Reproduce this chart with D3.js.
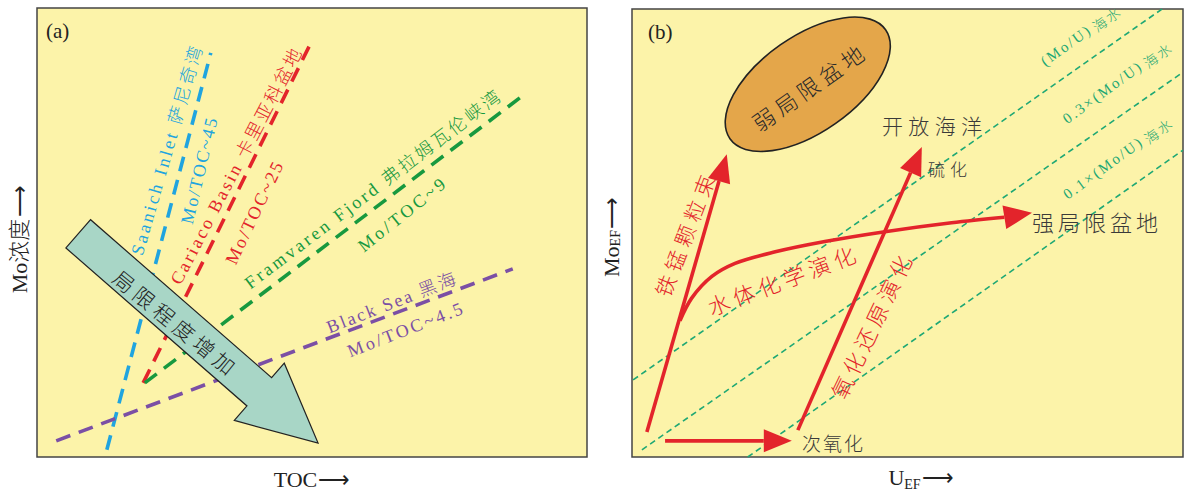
<!DOCTYPE html>
<html>
<head>
<meta charset="utf-8">
<script src="https://cdn.jsdelivr.net/npm/d3@7"></script>
<style>
  body { margin: 0; background: #fff; }
  text { font-family: "Liberation Serif", "Noto Sans CJK SC", serif; }
  .cjk { font-weight: 300; }
  .arr { font-family: "DejaVu Sans", sans-serif; font-weight: 300; }
</style>
</head>
<body>
<svg id="chart" width="1186" height="495"></svg>
<script>
// ---- panel (a): Mo vs TOC in modern anoxic basins (schematic 0-100 units)
const basinNames = ['Saanich Inlet 萨尼奇湾', 'Cariaco Basin 卡里亚科盆地', 'Framvaren Fjord 弗拉姆瓦伦峡湾', 'Black Sea 黑海'];
const basinRatios = ['Mo/TOC~45', 'Mo/TOC~25', 'Mo/TOC~9', 'Mo/TOC~4.5'];
const basinStart = [[12.7, 1.6], [19.3, 16.5], [19.6, 16.5], [3.5, 3.6]];
const basinEnd = [[31.6, 90.0], [49.5, 91.5], [87.8, 80.0], [86.5, 41.9]];
const restrictionArrow = [[7.5, 49.7], [51.1, 3.1]];
const restrictionText = '局限程度增加';

// ---- panel (b): Mo_EF vs U_EF
const seawaterNames = ['(Mo/U)', '0.3×(Mo/U)', '0.1×(Mo/U)'];
const seawaterStart = [[0.2, 17.2], [1.8, 1.6], [21.0, 0]];
const seawaterEnd = [[96.2, 100], [100, 85.9], [100, 68.5]];
const feMnShuttle = [[2.7, 5.6], [17.2, 67.6]];
const redoxPath = [[30.1, 6.0], [52.6, 69.2]];
const suboxicPath = [[6.0, 3.6], [29.0, 3.6]];
const waterChemCurve = [[8.7, 30.4], [10.8, 35.4], [14.5, 40.3], [18.7, 43.2], [26.0, 45.8],
  [35.0, 48.1], [45.9, 50.3], [58.0, 52.3], [68.0, 53.6], [72.6, 54.5]];
const weakBasin = [31.9, 83.2];

// ---- layout (label anchors in the same units; angles in degrees)
const basinNameLayout = [[23.6, 68.2, -73.9, 216], [36.2, 64.7, -62.4, 263], [61.0, 59.5, -37.1, 315], [64.4, 34.3, -21.3, 137]];
const basinRatioLayout = [[29.5, 63.7, -76.6, 108], [39.5, 54.3, -64.4, 111], [66.3, 53.9, -38.5, 106], [66.9, 28.3, -21.2, 122]];
const seawaterLayout = [[75.0, 87.1], [79.0, 74.3], [79.1, 57.4]];

const colors = ['#20a4df', '#e3242b', '#17993f', '#7b4fa5'];
const red = '#e3242b', swGreen = '#1fa874', ink = '#3a3a3a';

const svg = d3.select('#chart');

const panelA = { left: 37, top: 8, width: 550, height: 449 };
const panelB = { left: 632, top: 9, width: 551, height: 448 };

function makePanel(p) {
  const g = svg.append('g').attr('transform', `translate(${p.left},${p.top})`);
  g.append('rect').attr('width', p.width).attr('height', p.height)
    .attr('fill', '#fcf3a9').attr('stroke', '#444').attr('stroke-width', 1.5);
  const x = d3.scaleLinear().domain([0, 100]).range([0, p.width]);
  const y = d3.scaleLinear().domain([0, 100]).range([p.height, 0]);
  return { g, x, y };
}

function label(g, x, y, angle, txt, o) {
  const t = g.append('text')
    .attr('class', 'cjk')
    .attr('transform', `translate(${x},${y}) rotate(${angle})`)
    .attr('text-anchor', o.anchor || 'middle')
    .attr('dominant-baseline', o.baseline || 'central')
    .attr('font-size', o.size)
    .attr('fill', o.color)
    .text(txt);
  if (o.len) t.attr('textLength', o.len).attr('lengthAdjust', 'spacing');
  return t;
}

function arrowHead(g, p0, p1, len, half, color) {
  const dx = p1[0] - p0[0], dy = p1[1] - p0[1], L = Math.hypot(dx, dy);
  const ux = dx / L, uy = dy / L;
  const bx = p1[0] - ux * len, by = p1[1] - uy * len;
  g.append('path')
    .attr('d', `M${p1[0]},${p1[1]}L${bx - uy * half},${by + ux * half}L${bx + uy * half},${by - ux * half}Z`)
    .attr('fill', color);
  return [bx, by];
}

// ================= panel (a)
const A = makePanel(panelA);
const lineA = d3.line().x(d => A.x(d[0])).y(d => A.y(d[1]));

basinNames.forEach((name, i) => {
  A.g.append('path')
    .attr('d', lineA([basinStart[i], basinEnd[i]]))
    .attr('stroke', colors[i]).attr('stroke-width', 3.6)
    .attr('stroke-dasharray', '15,9').attr('fill', 'none');
});

// big "increasing restriction" arrow
{
  const s = [A.x(restrictionArrow[0][0]), A.y(restrictionArrow[0][1])];
  const t = [A.x(restrictionArrow[1][0]), A.y(restrictionArrow[1][1])];
  const dx = t[0] - s[0], dy = t[1] - s[1], L = Math.hypot(dx, dy);
  const ux = dx / L, uy = dy / L, nx = -uy, ny = ux;
  const w = 18.75, h = 38, hl = 78;
  const b = [t[0] - ux * hl, t[1] - uy * hl];
  const pts = [
    [s[0] + nx * w, s[1] + ny * w], [b[0] + nx * w, b[1] + ny * w], [b[0] + nx * h, b[1] + ny * h], t,
    [b[0] - nx * h, b[1] - ny * h], [b[0] - nx * w, b[1] - ny * w], [s[0] - nx * w, s[1] - ny * w]
  ];
  A.g.append('path').attr('d', 'M' + pts.join('L') + 'Z')
    .attr('fill', '#a8d6c6').attr('stroke', '#222').attr('stroke-width', 1.2);
  label(A.g, A.x(24.8), A.y(29.8), 39.1, restrictionText, { size: 21, color: '#222', len: 150 });
}

basinNames.forEach((name, i) => {
  const n = basinNameLayout[i], r = basinRatioLayout[i];
  label(A.g, A.x(n[0]), A.y(n[1]), n[2], name, { size: 18, color: colors[i], len: n[3] });
  label(A.g, A.x(r[0]), A.y(r[1]), r[2], basinRatios[i], { size: 18, color: colors[i], len: r[3] });
});

A.g.append('text').attr('x', 9).attr('y', 30).attr('font-size', 21).attr('fill', '#222').text('(a)');

// axis titles (a)
{
  const t = svg.append('text').attr('x', 312).attr('y', 487).attr('text-anchor', 'middle')
    .attr('font-size', 22).attr('fill', '#222');
  t.append('tspan').text('TOC');
  t.append('tspan').attr('class', 'arr').attr('dx', 1).text('⟶');
  const y = svg.append('text').attr('class', 'cjk').attr('transform', 'translate(19,239) rotate(-90)')
    .attr('text-anchor', 'middle').attr('dominant-baseline', 'central')
    .attr('font-size', 22).attr('fill', '#222');
  y.append('tspan').text('Mo浓度');
  y.append('tspan').attr('class', 'arr').attr('dx', 2).text('⟶');
}

// ================= panel (b)
const B = makePanel(panelB);
const lineB = d3.line().x(d => B.x(d[0])).y(d => B.y(d[1]));

seawaterNames.forEach((name, i) => {
  B.g.append('path')
    .attr('d', lineB([seawaterStart[i], seawaterEnd[i]]))
    .attr('stroke', swGreen).attr('stroke-width', 1.6)
    .attr('stroke-dasharray', '6,4').attr('fill', 'none');
  const l = seawaterLayout[i];
  const t = B.g.append('text').attr('class', 'cjk')
    .attr('transform', `translate(${B.x(l[0])},${B.y(l[1])}) rotate(-36)`)
    .attr('font-size', 15).attr('fill', swGreen).attr('letter-spacing', 2.2);
  t.append('tspan').text(name);
  t.append('tspan').attr('dx', 3).attr('dy', 3).attr('font-size', 14).text('海水');
});

// weakly restricted basin ellipse
B.g.append('ellipse')
  .attr('transform', `translate(${B.x(weakBasin[0])},${B.y(weakBasin[1])}) rotate(-35)`)
  .attr('rx', 95).attr('ry', 48)
  .attr('fill', '#e4a64a').attr('stroke', '#222').attr('stroke-width', 1.6);
label(B.g, B.x(weakBasin[0]) + 1, B.y(weakBasin[1]) + 5, -35, '弱局限盆地', { size: 22, color: '#2a2a2a', len: 130 });

// red straight arrows
[feMnShuttle, redoxPath, suboxicPath].forEach(p => {
  const p0 = [B.x(p[0][0]), B.y(p[0][1])], p1 = [B.x(p[1][0]), B.y(p[1][1])];
  const base = arrowHead(B.g, p0, p1, 28, 11.5, red);
  B.g.append('path').attr('d', `M${p0[0]},${p0[1]}L${base[0]},${base[1]}`)
    .attr('stroke', red).attr('stroke-width', 3.6).attr('fill', 'none');
});

// water chemistry curve
{
  const px = waterChemCurve.map(d => [B.x(d[0]), B.y(d[1])]);
  const tip = px[px.length - 1];
  const base = arrowHead(B.g, px[px.length - 2], tip, 28, 12, red);
  const body = px.slice(0, -1).concat([base]);
  body.splice(body.length - 2, 1);
  B.g.append('path').attr('d', d3.line().curve(d3.curveCatmullRom)(body))
    .attr('stroke', red).attr('stroke-width', 3.6).attr('fill', 'none');
}

// red labels
label(B.g, B.x(9.8), B.y(49.3), -69, '铁锰颗粒束', { size: 21, color: red, len: 128 });
label(B.g, B.x(27.2), B.y(39.1), -20.5, '水体化学演化', { size: 22, color: red, len: 156 });
label(B.g, B.x(43.6), B.y(28.9), -64.4, '氧化还原演化', { size: 22, color: red, len: 156 });

// dark labels
const dark = [
  ['开放海洋', 882, 134, 21, 100],
  ['硫化', 928, 176, 17, 39],
  ['强局限盆地', 1032, 231, 22, 126],
  ['次氧化', 802, 451, 19, 61]
];
dark.forEach(d => {
  svg.append('text').attr('class', 'cjk').attr('x', d[1]).attr('y', d[2]).attr('font-size', d[3])
    .attr('fill', ink).attr('textLength', d[4]).attr('lengthAdjust', 'spacing').text(d[0]);
});

B.g.append('text').attr('x', 16).attr('y', 30).attr('font-size', 21).attr('fill', '#222').text('(b)');

// axis titles (b)
{
  const t = svg.append('text').attr('x', 921).attr('y', 485).attr('text-anchor', 'middle')
    .attr('font-size', 22).attr('fill', '#222');
  t.append('tspan').text('U');
  t.append('tspan').attr('font-size', 14).attr('dy', 4).text('EF');
  t.append('tspan').attr('class', 'arr').attr('dy', -4).attr('dx', 1).text('⟶');
  const y = svg.append('text').attr('transform', 'translate(611,237) rotate(-90)')
    .attr('text-anchor', 'middle').attr('dominant-baseline', 'central')
    .attr('font-size', 22).attr('fill', '#222');
  y.append('tspan').text('Mo');
  y.append('tspan').attr('font-size', 14).attr('dy', 4).text('EF');
  y.append('tspan').attr('class', 'arr').attr('dy', -4).attr('dx', 1).text('⟶');
}
</script>
</body>
</html>
